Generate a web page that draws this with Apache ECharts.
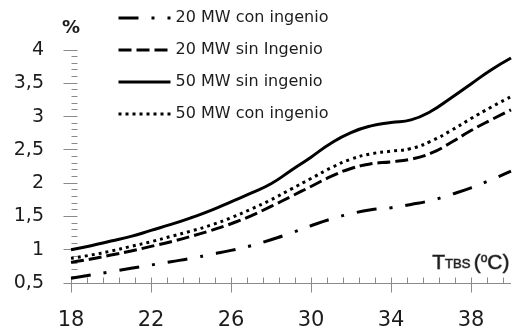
<!DOCTYPE html>
<html>
<head>
<meta charset="utf-8">
<script src="https://cdn.jsdelivr.net/npm/echarts@6/dist/echarts.min.js"></script>
<style>
  html, body { margin: 0; padding: 0; background: #fff; }
  #chart { width: 513px; height: 332px; }
</style>
</head>
<body>
<div id="chart"></div>
<script>
// Dry-bulb temperature (°C)
const temps = [18, 19, 20, 21, 22, 23, 24, 25, 26, 27, 28, 29, 30, 31, 32, 33, 34, 35, 36, 37, 38, 39, 40];

// Percentage values per plant configuration
const mw20Con = [0.57, 0.62, 0.67, 0.72, 0.77, 0.82, 0.87, 0.93, 0.99, 1.06, 1.15, 1.25, 1.36, 1.46, 1.54, 1.60, 1.63, 1.68, 1.74, 1.83, 1.93, 2.05, 2.18];
const mw20Sin = [0.81, 0.86, 0.92, 0.98, 1.05, 1.12, 1.20, 1.29, 1.39, 1.51, 1.65, 1.80, 1.95, 2.10, 2.22, 2.29, 2.32, 2.36, 2.45, 2.61, 2.79, 2.95, 3.10];
const mw50Sin = [1.00, 1.06, 1.13, 1.20, 1.29, 1.38, 1.48, 1.59, 1.72, 1.85, 1.99, 2.19, 2.39, 2.60, 2.76, 2.86, 2.91, 2.95, 3.08, 3.28, 3.49, 3.70, 3.88];
const mw50Con = [0.87, 0.92, 0.98, 1.05, 1.12, 1.20, 1.28, 1.37, 1.48, 1.61, 1.75, 1.91, 2.07, 2.23, 2.36, 2.44, 2.48, 2.52, 2.63, 2.79, 2.97, 3.14, 3.30];

const seriesNames = ['20 MW con ingenio', '20 MW sin Ingenio', '50 MW sin ingenio', '50 MW con ingenio'];
const xTickLabels = [18, 22, 26, 30, 34, 38];

const X_MIN = 18, X_MAX = 40, X_MINOR_STEP = 0.8;
const Y_MIN = 0.5, Y_MAX = 4, Y_STEP = 0.5, Y_MINOR_STEP = 0.1;

const axisGray = '#8a8a8a';
const textDark = '#1c1c1c';

const pairs = arr => temps.map((t, i) => [t, arr[i]]);

const lineStyles = [
  { type: [20, 13, 3, 13] },
  { type: [13, 5] },
  { type: 'solid' },
  { type: [3, 4] }
];
const values = [mw20Con, mw20Sin, mw50Sin, mw50Con];

const chart = echarts.init(document.getElementById('chart'));

chart.setOption({
  animation: false,
  grid: { left: 71, top: 50, right: 2, bottom: 49 },
  legend: {
    orient: 'vertical',
    left: 112,
    top: 5,
    itemWidth: 52,
    itemHeight: 19,
    itemGap: 16,
    data: seriesNames,
    itemStyle: { color: 'transparent', borderColor: 'transparent', borderWidth: 0 },
    lineStyle: { width: 3 },
    textStyle: { fontFamily: 'DejaVu Sans', fontSize: 16, color: textDark }
  },
  xAxis: {
    type: 'value', min: X_MIN, max: X_MAX,
    axisLine: { show: false },
    axisTick: { show: false },
    axisLabel: { customValues: xTickLabels, margin: 27, fontFamily: 'DejaVu Sans', fontSize: 21, color: textDark },
    splitLine: { show: false }
  },
  yAxis: {
    type: 'value', min: Y_MIN, max: Y_MAX, interval: Y_STEP,
    name: '%', nameLocation: 'end', nameGap: 13,
    nameTextStyle: { fontFamily: 'DejaVu Sans', fontWeight: 'bold', fontSize: 18, color: textDark },
    axisLine: { show: false },
    axisTick: { show: false },
    axisLabel: {
      margin: 27, fontFamily: 'DejaVu Sans', fontSize: 19, color: textDark,
      formatter: v => String(v).replace('.', ',')
    },
    splitLine: { show: false }
  },
  graphic: [
    {
      id: 'xname',
      type: 'text',
      right: 3,
      top: 252,
      style: {
        text: '{a|T}{b|TBS} {a|(}{c|o}{a|C)}',
        fill: textDark,
        rich: {
          a: { fontFamily: 'Liberation Sans', fontSize: 21, fill: textDark },
          b: { fontFamily: 'Liberation Sans', fontSize: 13, fill: textDark, verticalAlign: 'bottom', padding: [0, 0, 3, 0] },
          c: { fontFamily: 'Liberation Sans', fontSize: 12, fill: textDark, verticalAlign: 'top' }
        }
      }
    }
  ],
  series: seriesNames.map((name, i) => ({
    name,
    type: 'line',
    data: pairs(values[i]),
    smooth: true,
    symbol: 'none',
    color: '#000',
    lineStyle: Object.assign({ color: '#000', width: 3 }, lineStyles[i])
  }))
});

// Axis lines with crossing major ticks and inner minor ticks, placed through the axis scales
const crisp = v => Math.floor(v) + 0.5;
const toPx = (x, y) => chart.convertToPixel({ xAxisIndex: 0, yAxisIndex: 0 }, [x, y]);
const [xLeft, yBottom] = toPx(X_MIN, Y_MIN);
const [xRight, yTop] = toPx(X_MAX, Y_MAX);
const ax = crisp(xLeft), ay = crisp(yBottom);
const seg = (x1, y1, x2, y2) => ({
  type: 'line', silent: true, z: 1,
  shape: { x1, y1, x2, y2 },
  style: { stroke: axisGray, lineWidth: 1 }
});
const axisMarks = [seg(ax, Math.round(yTop), ax, ay), seg(ax, ay, Math.round(xRight), ay)];

const yCount = Math.round((Y_MAX - Y_MIN) / Y_MINOR_STEP);
for (let i = 0; i <= yCount; i++) {
  const v = Y_MIN + i * Y_MINOR_STEP;
  const py = crisp(toPx(X_MIN, v)[1]);
  const major = i % Math.round(Y_STEP / Y_MINOR_STEP) === 0;
  axisMarks.push(seg(major ? ax - 8 : ax, py, ax + 6, py));
}
for (let i = 0; X_MIN + i * X_MINOR_STEP < X_MAX - 1e-9; i++) {
  const v = +(X_MIN + i * X_MINOR_STEP).toFixed(2);
  const px = crisp(toPx(v, Y_MIN)[0]);
  const major = xTickLabels.indexOf(v) >= 0;
  axisMarks.push(seg(px, ay - 6, px, major ? ay + 9 : ay));
}

chart.setOption({
  graphic: [{ id: 'axes', type: 'group', silent: true, children: axisMarks }]
});
</script>
</body>
</html>
